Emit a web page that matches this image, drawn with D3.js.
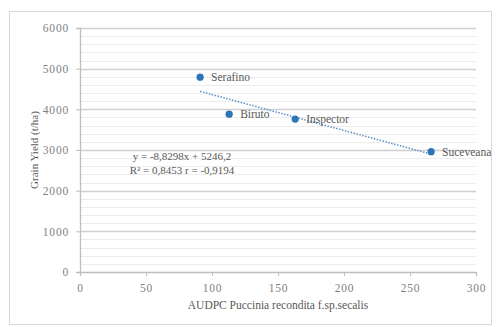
<!doctype html>
<html>
<head>
<meta charset="UTF-8">
<title>AUDPC vs Grain Yield</title>
<script src="https://d3js.org/d3.v7.min.js"></script>
<style>
  body { margin: 0; background: #fff; }
</style>
</head>
<body>
<script>
// data
var cultivars = ["Serafino", "Biruto", "Inspector", "Suceveana"];
var audpc = [91, 113, 163, 266];
var yieldKg = [4790, 3880, 3760, 2960];
var xTicks = [0, 50, 100, 150, 200, 250, 300];
var yTicks = [0, 1000, 2000, 3000, 4000, 5000, 6000];
var trendSlope = -8.8298, trendIntercept = 5246.2;
var eqLines = ["y = -8,8298x + 5246,2", "R\u00b2 = 0,8453 r = -0,9194"];

var serif = '"Liberation Serif", "Times New Roman", "DejaVu Serif", serif';
var w = 497, h = 327;
var svg = d3.select("body").append("svg").attr("width", w).attr("height", h);

// chart frame
svg.append("rect").attr("x", 9.5).attr("y", 11.5).attr("width", 482).attr("height", 313)
  .attr("fill", "#fff").attr("stroke", "#d9d9d9");

var x = d3.scaleLinear().domain([0, 300]).range([80, 476]);
var y = d3.scaleLinear().domain([0, 6000]).range([272, 28]);

// minor gridlines every 200
var minor = d3.range(200, 6000, 200).filter(function(d){ return d % 1000 != 0; });
svg.selectAll(".minor").data(minor).enter().append("line")
  .attr("x1", x(0)).attr("x2", x(300))
  .attr("y1", function(d){ return Math.round(y(d)) + 0.5; })
  .attr("y2", function(d){ return Math.round(y(d)) + 0.5; })
  .attr("stroke", "#ececec");
svg.selectAll(".major").data(yTicks.slice(1)).enter().append("line")
  .attr("x1", x(0)).attr("x2", x(300))
  .attr("y1", function(d){ return Math.round(y(d)) + 0.5; })
  .attr("y2", function(d){ return Math.round(y(d)) + 0.5; })
  .attr("stroke", "#d0d0d0").attr("stroke-width", 1.3);

// axes
var xAxis = d3.axisBottom(x).tickValues(xTicks).tickFormat(d3.format("d")).tickSize(4).tickPadding(8);
var gx = svg.append("g").attr("transform", "translate(0," + y(0) + ")").call(xAxis);
var yAxis = d3.axisLeft(y).tickValues(yTicks).tickFormat(d3.format("d")).tickSize(4).tickPadding(7);
var gy = svg.append("g").attr("transform", "translate(" + x(0) + ",0)").call(yAxis);
[gx, gy].forEach(function(g){
  g.select(".domain").attr("stroke", "#bfbfbf").attr("stroke-width", 1.3);
  g.selectAll(".tick line").attr("stroke", "#bfbfbf");
  g.selectAll(".tick text").style("font-family", serif).style("font-size", "11.5px")
    .style("letter-spacing", "0.8px").style("fill", "#7f7f7f");
});

// trend line
var x0 = audpc[0], x1 = audpc[audpc.length - 1];
svg.append("line")
  .attr("x1", x(x0)).attr("y1", y(trendSlope * x0 + trendIntercept))
  .attr("x2", x(x1)).attr("y2", y(trendSlope * x1 + trendIntercept))
  .attr("stroke", "#5b8fc7").attr("stroke-width", 1.5).attr("stroke-dasharray", "1.5,1.5");

// points
var pts = cultivars.map(function(c, i){ return {name: c, a: audpc[i], v: yieldKg[i]}; });
svg.selectAll("circle").data(pts).enter().append("circle")
  .attr("cx", function(d){ return x(d.a); })
  .attr("cy", function(d){ return y(d.v); })
  .attr("r", 3.6).attr("fill", "#2e75b6");
svg.selectAll(".lab").data(pts).enter().append("text")
  .attr("x", function(d){ return x(d.a) + 11; })
  .attr("y", function(d){ return y(d.v) + 4; })
  .style("font-family", serif).style("font-size", "11.5px").style("fill", "#595959")
  .text(function(d){ return d.name; });

// equation
svg.selectAll(".eq").data(eqLines).enter().append("text")
  .attr("x", 182).attr("y", function(d, i){ return 160 + i * 14; })
  .attr("text-anchor", "middle")
  .style("font-family", serif).style("font-size", "11px").style("fill", "#595959")
  .text(function(d){ return d; });

// axis titles
svg.append("text").attr("transform", "translate(38,150) rotate(-90)")
  .attr("text-anchor", "middle")
  .style("font-family", serif).style("font-size", "11px").style("fill", "#595959")
  .text("Grain Yield  (t/ha)");
svg.append("text").attr("x", 278).attr("y", 309)
  .attr("text-anchor", "middle")
  .style("font-family", serif).style("font-size", "11.5px").style("fill", "#595959")
  .text("AUDPC Puccinia recondita f.sp.secalis");
</script>
</body>
</html>
